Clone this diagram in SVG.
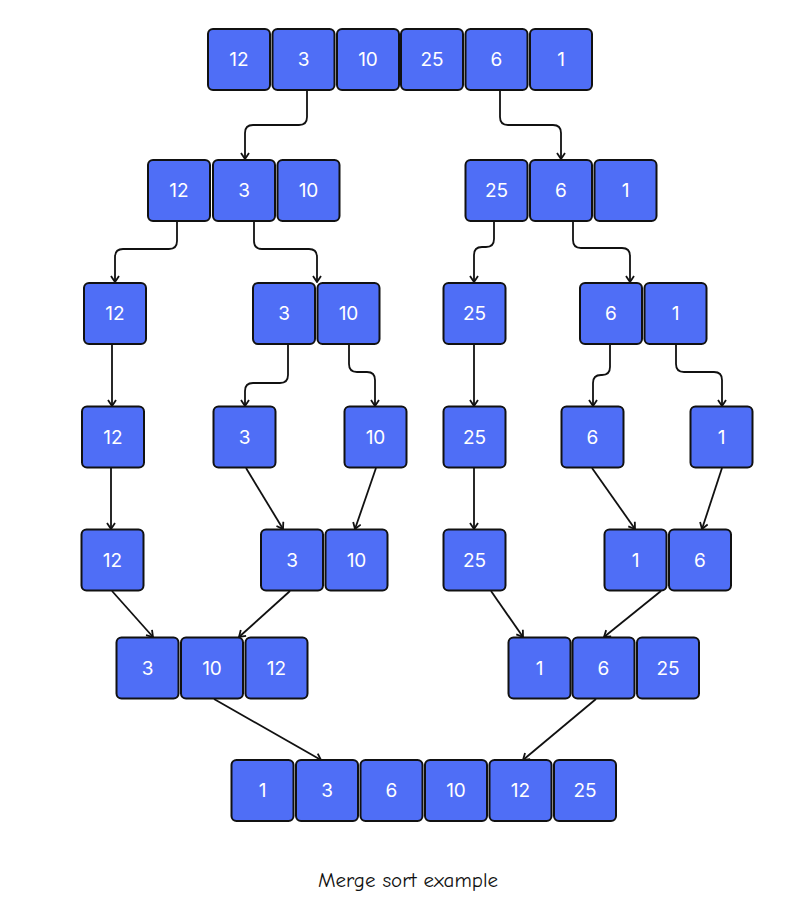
<svg xmlns="http://www.w3.org/2000/svg" width="800" height="906" viewBox="0 0 800 906">
<defs>
<style>
.b rect{fill:#4f6ef6;stroke:#111;stroke-width:2}
.b text{font-family:Inter,"Liberation Sans",sans-serif;font-size:19px;fill:#fff;text-anchor:middle}
#edges path{fill:none;stroke:#111;stroke-width:1.8;marker-end:url(#ah)}
.cap{font-family:"Comic Neue","DejaVu Sans",sans-serif;font-size:21px;fill:#111;text-anchor:middle}
</style>
<marker id="ah" viewBox="0 0 10 10" refX="9" refY="5" markerWidth="10" markerHeight="10" markerUnits="userSpaceOnUse" orient="auto">
<path d="M3,1 L9,5 L3,9" fill="none" stroke="#111" stroke-width="1.8"/>
</marker>
</defs>
<rect width="800" height="906" fill="#fff"/>

<g id="edges">
<path d="M307,91 V117 Q307,125 299,125 H253 Q245,125 245,133 V159"/>
<path d="M500,91 V117 Q500,125 508,125 H553 Q561,125 561,133 V159"/>
<path d="M177,222 V241 Q177,249 169,249 H123 Q115,249 115,257 V282"/>
<path d="M254,222 V241 Q254,249 262,249 H309 Q317,249 317,257 V282"/>
<path d="M112,345 V406"/>
<path d="M288,345 V375 Q288,383 280,383 H253 Q245,383 245,391 V406"/>
<path d="M349,345 V364 Q349,372 357,372 H367 Q375,372 375,380 V406"/>
<path d="M494,222 V239 Q494,247 486,247 H482 Q474,247 474,255 V282"/>
<path d="M573,222 V240 Q573,248 581,248 H622 Q630,248 630,256 V282"/>
<path d="M474,345 V406"/>
<path d="M610,345 V367 Q610,375 602,375 H601 Q593,375 593,383 V406"/>
<path d="M676,345 V364 Q676,372 684,372 H714 Q722,372 722,380 V406"/>
<path d="M474,468 V529"/>
<path d="M592,468 L635,529"/>
<path d="M722,468 L702,529"/>
<path d="M111,468 V529"/>
<path d="M246,468 L283,529"/>
<path d="M376,468 L355,529"/>
<path d="M112,591 L153,637"/>
<path d="M290,591 L239,637"/>
<path d="M491,591 L523,637"/>
<path d="M661,591 L604,637"/>
<path d="M214,699 L321,760"/>
<path d="M596,699 L523,760"/>
</g>

<g id="row1" class="b">
<g id="r1a"><rect x="208" y="29" width="62" height="61" rx="5"/><text x="239" y="66">12</text></g>
<g id="r1b"><rect x="272.5" y="29" width="62" height="61" rx="5"/><text x="303.5" y="66">3</text></g>
<g id="r1c"><rect x="337" y="29" width="62" height="61" rx="5"/><text x="368" y="66">10</text></g>
<g id="r1d"><rect x="401" y="29" width="62" height="61" rx="5"/><text x="432" y="66">25</text></g>
<g id="r1e"><rect x="465.5" y="29" width="62" height="61" rx="5"/><text x="496.5" y="66">6</text></g>
<g id="r1f"><rect x="530" y="29" width="62" height="61" rx="5"/><text x="561" y="66">1</text></g>
</g>

<g id="row2" class="b">
<g id="r2a"><rect x="148" y="160" width="62" height="61" rx="5"/><text x="179" y="197">12</text></g>
<g id="r2b"><rect x="213" y="160" width="62" height="61" rx="5"/><text x="244" y="197">3</text></g>
<g id="r2c"><rect x="277.5" y="160" width="62" height="61" rx="5"/><text x="308.5" y="197">10</text></g>
<g id="r2d"><rect x="465.5" y="160" width="62" height="61" rx="5"/><text x="496.5" y="197">25</text></g>
<g id="r2e"><rect x="530" y="160" width="62" height="61" rx="5"/><text x="561" y="197">6</text></g>
<g id="r2f"><rect x="594.5" y="160" width="62" height="61" rx="5"/><text x="625.5" y="197">1</text></g>
</g>

<g id="row3" class="b">
<g id="r3a"><rect x="84" y="283" width="62" height="61" rx="5"/><text x="115" y="320">12</text></g>
<g id="r3b"><rect x="253" y="283" width="62" height="61" rx="5"/><text x="284" y="320">3</text></g>
<g id="r3c"><rect x="317.5" y="283" width="62" height="61" rx="5"/><text x="348.5" y="320">10</text></g>
<g id="r3d"><rect x="443.5" y="283" width="62" height="61" rx="5"/><text x="474.5" y="320">25</text></g>
<g id="r3e"><rect x="580" y="283" width="62" height="61" rx="5"/><text x="611" y="320">6</text></g>
<g id="r3f"><rect x="644.5" y="283" width="62" height="61" rx="5"/><text x="675.5" y="320">1</text></g>
</g>

<g id="row4" class="b">
<g id="r4a"><rect x="82" y="406.5" width="62" height="61" rx="5"/><text x="113" y="443.5">12</text></g>
<g id="r4b"><rect x="213.5" y="406.5" width="62" height="61" rx="5"/><text x="244.5" y="443.5">3</text></g>
<g id="r4c"><rect x="344.5" y="406.5" width="62" height="61" rx="5"/><text x="375.5" y="443.5">10</text></g>
<g id="r4d"><rect x="443.5" y="406.5" width="62" height="61" rx="5"/><text x="474.5" y="443.5">25</text></g>
<g id="r4e"><rect x="561.5" y="406.5" width="62" height="61" rx="5"/><text x="592.5" y="443.5">6</text></g>
<g id="r4f"><rect x="690.5" y="406.5" width="62" height="61" rx="5"/><text x="721.5" y="443.5">1</text></g>
</g>

<g id="row5" class="b">
<g id="r5a"><rect x="81.5" y="529.5" width="62" height="61" rx="5"/><text x="112.5" y="566.5">12</text></g>
<g id="r5b"><rect x="261" y="529.5" width="62" height="61" rx="5"/><text x="292" y="566.5">3</text></g>
<g id="r5c"><rect x="325.5" y="529.5" width="62" height="61" rx="5"/><text x="356.5" y="566.5">10</text></g>
<g id="r5d"><rect x="443.5" y="529.5" width="62" height="61" rx="5"/><text x="474.5" y="566.5">25</text></g>
<g id="r5e"><rect x="604.5" y="529.5" width="62" height="61" rx="5"/><text x="635.5" y="566.5">1</text></g>
<g id="r5f"><rect x="669" y="529.5" width="62" height="61" rx="5"/><text x="700" y="566.5">6</text></g>
</g>

<g id="row6" class="b">
<g id="r6a"><rect x="116.5" y="637.5" width="62" height="61" rx="5"/><text x="147.5" y="674.5">3</text></g>
<g id="r6b"><rect x="181" y="637.5" width="62" height="61" rx="5"/><text x="212" y="674.5">10</text></g>
<g id="r6c"><rect x="245.5" y="637.5" width="62" height="61" rx="5"/><text x="276.5" y="674.5">12</text></g>
<g id="r6d"><rect x="508.5" y="637.5" width="62" height="61" rx="5"/><text x="539.5" y="674.5">1</text></g>
<g id="r6e"><rect x="572.5" y="637.5" width="62" height="61" rx="5"/><text x="603.5" y="674.5">6</text></g>
<g id="r6f"><rect x="637" y="637.5" width="62" height="61" rx="5"/><text x="668" y="674.5">25</text></g>
</g>

<g id="row7" class="b">
<g id="r7a"><rect x="231.5" y="760" width="62" height="61" rx="5"/><text x="262.5" y="797">1</text></g>
<g id="r7b"><rect x="296" y="760" width="62" height="61" rx="5"/><text x="327" y="797">3</text></g>
<g id="r7c"><rect x="360.5" y="760" width="62" height="61" rx="5"/><text x="391.5" y="797">6</text></g>
<g id="r7d"><rect x="425" y="760" width="62" height="61" rx="5"/><text x="456" y="797">10</text></g>
<g id="r7e"><rect x="489.5" y="760" width="62" height="61" rx="5"/><text x="520.5" y="797">12</text></g>
<g id="r7f"><rect x="554" y="760" width="62" height="61" rx="5"/><text x="585" y="797">25</text></g>
</g>

<text class="cap" x="408" y="887" textLength="180" lengthAdjust="spacingAndGlyphs">Merge sort example</text>
</svg>
